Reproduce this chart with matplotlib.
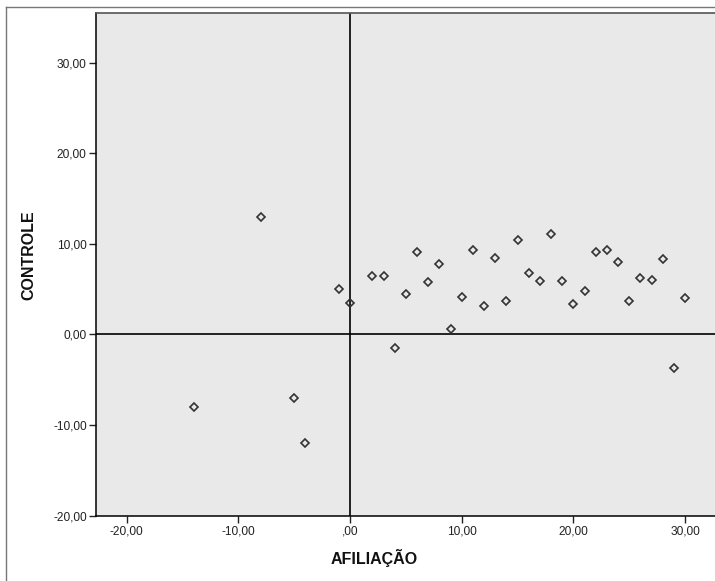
import matplotlib.pyplot as plt
from matplotlib.lines import Line2D
from matplotlib.ticker import FuncFormatter

plt.rcParams['font.family'] = ['Liberation Sans', 'DejaVu Sans']

# AFILIAÇÃO (x) and CONTROLE (y)
afiliacao = [-14, -8, -5, -4, -1, 0, 2, 3, 4, 5, 6, 7, 8, 9, 10, 11, 12, 13, 14, 15,
             16, 17, 18, 19, 20, 21, 22, 23, 24, 25, 26, 27, 28, 29, 30]
controle = [-8.0, 13.0, -7.0, -12.0, 5.0, 3.5, 6.45, 6.45, -1.47, 4.45, 9.05, 5.8,
            7.73, 0.6, 4.16, 9.3, 3.1, 8.4, 3.68, 10.4, 6.77, 5.92, 11.07, 5.85,
            3.35, 4.82, 9.1, 9.35, 7.95, 3.68, 6.18, 5.96, 8.28, -3.72, 3.97]
x_ticks = [-20, -10, 0, 10, 20, 30]
y_ticks = [-20, -10, 0, 10, 20, 30]


# SPSS style numbers: comma decimals, x axis drops the leading zero (",00")
def x_fmt(v, pos):
    s = ('%.2f' % v).replace('.', ',')
    if s.startswith('0,'):
        s = s[1:]
    return s


def y_fmt(v, pos):
    return ('%.2f' % v).replace('.', ',')


fig = plt.figure(figsize=(7.15, 5.81), dpi=100)
ax = fig.add_axes([95.7 / 715, 1 - 515.7 / 581, 1.005 - 95.7 / 715, (515.7 - 12.7) / 581])
ax.set_facecolor('#e9e9e9')

ax.axhline(0, color='black', lw=1.2, zorder=1)
ax.axvline(0, color='black', lw=1.2, zorder=1)
ax.plot(afiliacao, controle, ls='none', marker='D', ms=4.2, mfc='none',
        mec='#333333', mew=1.2, zorder=3)

ax.set_xlim(-22.77, 33.0)
ax.set_ylim(-20, 35.5)
ax.set_xticks(x_ticks)
ax.set_yticks(y_ticks)
ax.xaxis.set_major_formatter(FuncFormatter(x_fmt))
ax.yaxis.set_major_formatter(FuncFormatter(y_fmt))
ax.tick_params(axis='x', length=5, width=1, pad=2, labelsize=8.6, colors='#222222')
ax.tick_params(axis='y', length=5, width=1, pad=1.5, labelsize=8.6, colors='#222222')
for side in ['left', 'bottom']:
    ax.spines[side].set_color('black')
    ax.spines[side].set_linewidth(1.1)
ax.spines['top'].set_color('#555555')
ax.spines['top'].set_linewidth(1.2)
ax.spines['right'].set_visible(False)

fig.text(374 / 715, 1 - 558 / 581, 'AFILIAÇÃO', ha='center', va='center',
         fontsize=11.5, fontweight='bold', color='#111111')
fig.text(29 / 715, 1 - 255 / 581, 'CONTROLE', ha='center', va='center',
         rotation=90, fontsize=11.5, fontweight='bold', color='#111111')

# outer chart frame
fig.add_artist(Line2D([6 / 715, 6 / 715], [0, 1 - 7 / 581], transform=fig.transFigure,
                      color='#777777', lw=1))
fig.add_artist(Line2D([6 / 715, 1], [1 - 7 / 581, 1 - 7 / 581], transform=fig.transFigure,
                      color='#777777', lw=1))

fig.savefig('out.png', dpi=100)
